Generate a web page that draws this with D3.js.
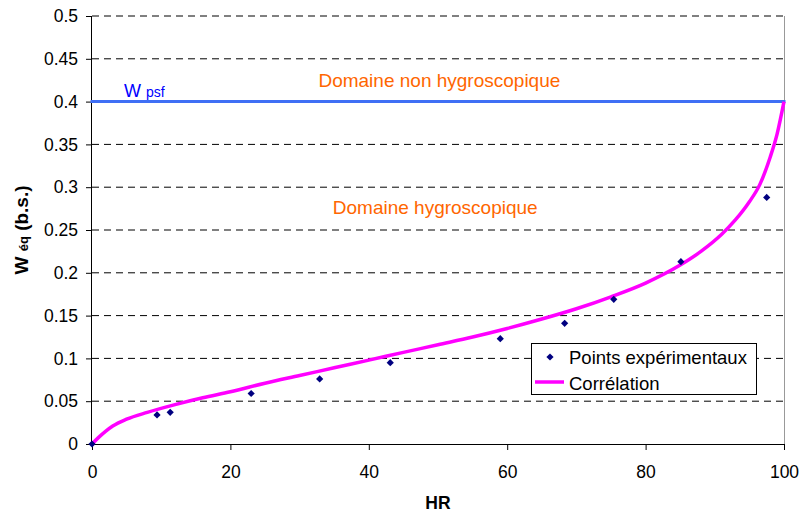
<!DOCTYPE html>
<html>
<head>
<meta charset="utf-8">
<script src="https://cdn.jsdelivr.net/npm/d3@7"></script>
<style>
  html, body { margin: 0; padding: 0; background: #fff; }
  svg { display: block; font-family: "Liberation Sans", Arial, sans-serif; }
</style>
</head>
<body>
<svg id="chart" width="801" height="512"></svg>
<script>
// Experimental sorption points: relative humidity (%) and equilibrium moisture content (dry basis)
const hrPoints = [0, 9.4, 11.3, 23.0, 32.9, 43.1, 59.0, 68.3, 75.4, 85.1, 97.5];
const wPoints  = [0, 0.034, 0.037, 0.059, 0.076, 0.095, 0.123, 0.141, 0.169, 0.213, 0.288];

// Correlation curve samples
const hrCurve = [0, 1, 2, 3, 5, 8, 12, 16, 20, 25, 30, 35, 40, 45, 50, 55, 60, 65, 70, 75, 80, 85, 88, 91, 93, 95, 96.5, 98, 99, 100];
const wCurve  = [0, 0.008, 0.015, 0.021, 0.029, 0.037, 0.046, 0.054, 0.061, 0.071, 0.080, 0.089, 0.098, 0.107, 0.116, 0.125, 0.135, 0.146, 0.158, 0.172, 0.188, 0.209, 0.225, 0.245, 0.262, 0.283, 0.303, 0.335, 0.362, 0.400];

// Fibre saturation point
const hrPsf = [0, 100];
const wPsf  = [0.4, 0.4];

const xTickValues = [0, 20, 40, 60, 80, 100];
const xTickLabels = ["0", "20", "40", "60", "80", "100"];
const yTickValues = [0, 0.05, 0.1, 0.15, 0.2, 0.25, 0.3, 0.35, 0.4, 0.45, 0.5];
const yTickLabels = ["0", "0.05", "0.1", "0.15", "0.2", "0.25", "0.3", "0.35", "0.4", "0.45", "0.5"];

const svg = d3.select("#chart");
const plotLeft = 92, plotRight = 784, plotTop = 16, plotBottom = 444;

const x = d3.scaleLinear().domain([0, 100]).range([plotLeft, plotRight]);
const y = d3.scaleLinear().domain([0, 0.5]).range([plotBottom, plotTop]);

// Dashed horizontal gridlines
svg.append("g")
  .selectAll("line")
  .data(yTickValues.filter(v => v > 0))
  .join("line")
  .attr("x1", plotLeft).attr("x2", plotRight)
  .attr("y1", d => y(d)).attr("y2", d => y(d))
  .attr("stroke", "#000")
  .attr("stroke-width", 1)
  .attr("stroke-dasharray", "7,5");

// Right border of the plot area
svg.append("line")
  .attr("x1", plotRight + 0.5).attr("x2", plotRight + 0.5)
  .attr("y1", plotTop).attr("y2", plotBottom)
  .attr("stroke", "#999").attr("stroke-width", 1);

// Axes
const yAxis = svg.append("g")
  .attr("transform", `translate(${plotLeft},0)`)
  .call(d3.axisLeft(y).tickValues(yTickValues)
    .tickFormat((d, i) => yTickLabels[i]).tickSize(6).tickPadding(8));
const xAxis = svg.append("g")
  .attr("transform", `translate(0,${plotBottom})`)
  .call(d3.axisBottom(x).tickValues(xTickValues)
    .tickFormat((d, i) => xTickLabels[i]).tickSize(6).tickPadding(16));

[xAxis, yAxis].forEach(g => {
  g.select(".domain").attr("stroke", "#000").attr("stroke-width", 1);
  g.selectAll(".tick line").attr("stroke", "#000");
  g.selectAll(".tick text")
    .attr("fill", "#000")
    .style("font-family", "'Liberation Sans', Arial, sans-serif")
    .style("font-size", "17.5px");
});
xAxis.select(".domain").attr("d", `M${plotLeft},0.5H${plotRight}`);
yAxis.select(".domain").attr("d", `M-0.5,${plotTop}V${plotBottom}`);

// W psf line
const psf = hrPsf.map((h, i) => [h, wPsf[i]]);
svg.append("path")
  .datum(psf)
  .attr("d", d3.line().x(d => x(d[0])).y(d => y(d[1])))
  .attr("fill", "none")
  .attr("stroke", "#3f6ff5")
  .attr("stroke-width", 3)
  .attr("stroke-linecap", "square");

// Correlation curve
const curve = hrCurve.map((h, i) => [h, wCurve[i]]);
svg.append("path")
  .datum(curve)
  .attr("d", d3.line().curve(d3.curveMonotoneX).x(d => x(d[0])).y(d => y(d[1])))
  .attr("fill", "none")
  .attr("stroke", "#ff00ff")
  .attr("stroke-width", 3.5)
  .attr("stroke-linejoin", "round");

// Experimental points (diamonds)
const diamond = d3.symbol().type(d3.symbolSquare).size(26);
svg.append("g")
  .selectAll("path")
  .data(hrPoints.map((h, i) => [h, wPoints[i]]))
  .join("path")
  .attr("d", diamond)
  .attr("transform", d => `translate(${x(d[0])},${y(d[1])}) rotate(45)`)
  .attr("fill", "#000080");

// Annotations
svg.append("text")
  .attr("x", x(50.2)).attr("y", y(0.417))
  .attr("text-anchor", "middle")
  .attr("fill", "#ff6600")
  .style("font-size", "19px")
  .text("Domaine non hygroscopique");
svg.append("text")
  .attr("x", x(49.6)).attr("y", y(0.269))
  .attr("text-anchor", "middle")
  .attr("fill", "#ff6600")
  .style("font-size", "19px")
  .text("Domaine hygroscopique");

const wLabel = svg.append("text")
  .attr("x", 124).attr("y", y(0.4) - 5)
  .attr("fill", "#0000ff");
wLabel.append("tspan").style("font-size", "18px").text("W");
wLabel.append("tspan").style("font-size", "14px").attr("dx", 5).text("psf");

// Axis titles
svg.append("text")
  .attr("x", (plotLeft + plotRight) / 2).attr("y", 509)
  .attr("text-anchor", "middle")
  .style("font-size", "17.5px").style("font-weight", "bold")
  .text("HR");

const yTitle = svg.append("text")
  .attr("transform", `translate(28,${(plotTop + plotBottom) / 2}) rotate(-90)`)
  .attr("text-anchor", "middle")
  .style("font-weight", "bold");
yTitle.append("tspan").style("font-size", "19px").text("W ");
yTitle.append("tspan").style("font-size", "13px").text("éq");
yTitle.append("tspan").style("font-size", "19px").text(" (b.s.)");

// Legend
const legend = svg.append("g");
legend.append("rect")
  .attr("x", 531.5).attr("y", 343.5).attr("width", 225).attr("height", 51)
  .attr("fill", "#fff").attr("stroke", "#000").attr("stroke-width", 1);
legend.append("path")
  .attr("d", diamond)
  .attr("transform", "translate(550,357) rotate(45)")
  .attr("fill", "#000080");
legend.append("text")
  .attr("x", 569).attr("y", 363.5)
  .style("font-size", "18.5px")
  .text("Points expérimentaux");
legend.append("line")
  .attr("x1", 535).attr("x2", 564).attr("y1", 382).attr("y2", 382)
  .attr("stroke", "#ff00ff").attr("stroke-width", 3.5);
legend.append("text")
  .attr("x", 569).attr("y", 389.5)
  .style("font-size", "18.5px")
  .text("Corrélation");
</script>
</body>
</html>
